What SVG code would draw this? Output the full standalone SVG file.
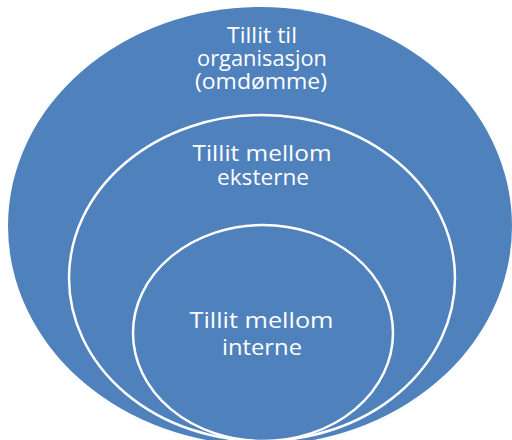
<svg xmlns="http://www.w3.org/2000/svg" width="512" height="440" viewBox="0 0 512 440">
<style>
.e{fill:#4F81BD;}
.s{fill:#4F81BD;stroke:#FFFFFF;stroke-width:2.5;}
.t{font-family:"Open Sans","Liberation Sans",sans-serif;font-size:21px;fill:#FFFFFF;text-anchor:middle;}
</style>
<rect width="512" height="440" fill="#FFFFFF"/>
<g id="outer">
<ellipse class="e" cx="260" cy="226" rx="252" ry="219"/>
<text class="t" x="262" y="43" textLength="70" lengthAdjust="spacingAndGlyphs">Tillit til</text>
<text class="t" x="262" y="66" textLength="130" lengthAdjust="spacingAndGlyphs">organisasjon</text>
<text class="t" x="261" y="89" textLength="132" lengthAdjust="spacingAndGlyphs">(omdømme)</text>
</g>
<g id="middle">
<ellipse class="s" cx="262" cy="278" rx="193" ry="163"/>
<text class="t" x="262" y="161" textLength="139" lengthAdjust="spacingAndGlyphs">Tillit mellom</text>
<text class="t" x="263" y="185" textLength="92" lengthAdjust="spacingAndGlyphs">eksterne</text>
</g>
<g id="inner">
<ellipse class="s" cx="263" cy="333" rx="130" ry="108"/>
<text class="t" x="261.5" y="328" textLength="144" lengthAdjust="spacingAndGlyphs">Tillit mellom</text>
<text class="t" x="262" y="355" textLength="80" lengthAdjust="spacingAndGlyphs">interne</text>
</g>
<g id="connectors"></g>
</svg>
